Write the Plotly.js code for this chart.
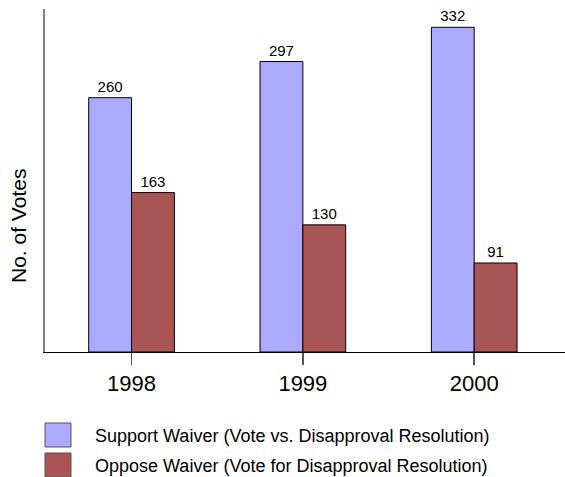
<!DOCTYPE html>
<html><head><meta charset="utf-8">
<script src="https://cdn.plot.ly/plotly-3.0.1.min.js"></script>
<style>html,body{margin:0;padding:0;background:#fff;}#chart{width:565px;height:477px;}</style>
</head><body><div id="chart"></div>
<script>
const years = ["1998", "1999", "2000"];
const supportVotes = [260, 297, 332];
const opposeVotes = [163, 130, 91];
const seriesNames = ["Support Waiver (Vote vs. Disapproval Resolution)", "Oppose Waiver (Vote for Disapproval Resolution)"];
const seriesColors = ["#AAAAFF", "#AA5555"];
const yTitle = "No. of Votes";

const font = "Arial, 'Liberation Sans', sans-serif";
const traces = [supportVotes, opposeVotes].map((vals, i) => ({
  type: "bar", x: years, y: vals, name: seriesNames[i],
  marker: {color: seriesColors[i], line: {color: "#000", width: 1}},
  text: vals.map(String), textposition: "outside", cliponaxis: false,
  textfont: {family: font, size: 15, color: "#000"},
  hoverinfo: "none"
}));

const shapes = [], annotations = [];
seriesNames.forEach((n, i) => {
  shapes.push({type: "rect", xref: "paper", yref: "paper",
    x0: 0, x1: 26/520,
    y0: -(423 + i*30 + 24 - 352)/343, y1: -(423 + i*30 - 352)/343,
    fillcolor: seriesColors[i], line: {color: "#555", width: 1}});
  annotations.push({xref: "paper", yref: "paper", x: 48/520, y: -(436 + i*30 - 352)/343,
    xanchor: "left", yanchor: "middle", showarrow: false, text: n,
    font: {family: font, size: 18, color: "#000"}});
});
annotations.push({xref: "paper", yref: "paper", x: -27/520, y: (352-226)/343,
  xanchor: "center", yanchor: "middle", showarrow: false, text: yTitle, textangle: -90,
  font: {family: font, size: 21, color: "#000"}});

const layout = {
  width: 565, height: 477,
  margin: {l: 45, r: 0, t: 9, b: 125},
  paper_bgcolor: "#fff", plot_bgcolor: "#fff",
  showlegend: false, barmode: "group", bargap: 0.5, bargroupgap: 0,
  xaxis: {type: "category", range: [-0.505, 2.53], showgrid: false, zeroline: false,
    showline: true, linecolor: "#000", linewidth: 1,
    ticks: "outside", ticklen: 12, tickcolor: "#555", tickwidth: 1.5,
    tickfont: {family: font, size: 22, color: "#000"}, automargin: false},
  yaxis: {range: [0, 350.7], showgrid: false, zeroline: false, showticklabels: false,
    ticks: "", showline: true, linecolor: "#808080", linewidth: 2, automargin: false},
  shapes: shapes, annotations: annotations
};
Plotly.newPlot("chart", traces, layout, {staticPlot: true, displayModeBar: false});
</script></body></html>
